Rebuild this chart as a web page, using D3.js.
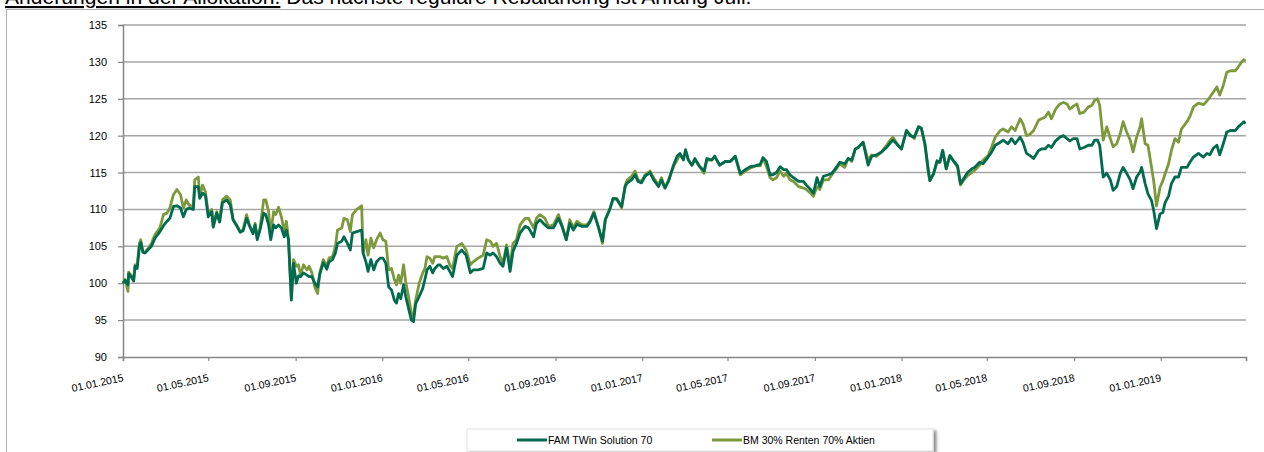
<!DOCTYPE html>
<html>
<head>
<meta charset="utf-8">
<script src="https://cdn.jsdelivr.net/npm/d3@7"></script>
<style>
  body { margin: 0; background: #fff; }
  svg { display: block; font-family: "Liberation Sans", Arial, sans-serif; }
</style>
</head>
<body>
<svg id="chart" width="1264" height="452"></svg>
<script>
// chart data
const seriesNames = ["FAM TWin Solution 70", "BM 30% Renten 70% Aktien"];
const seriesColors = ["#006b4f", "#7c993b"];
const yTicks = [90, 95, 100, 105, 110, 115, 120, 125, 130, 135];
const xTickLabels = ["01.01.2015", "01.05.2015", "01.09.2015", "01.01.2016", "01.05.2016", "01.09.2016",
  "01.01.2017", "01.05.2017", "01.09.2017", "01.01.2018", "01.05.2018", "01.09.2018", "01.01.2019"];

const dates = [
  "2015-01-01","2015-01-04","2015-01-08","2015-01-09","2015-01-13","2015-01-16","2015-01-18","2015-01-21","2015-01-24","2015-01-26",
  "2015-01-29","2015-02-01","2015-02-06","2015-02-10","2015-02-15","2015-02-22","2015-02-27","2015-03-04","2015-03-08","2015-03-13",
  "2015-03-18","2015-03-23","2015-03-27","2015-03-31","2015-04-04","2015-04-10","2015-04-12","2015-04-17","2015-04-19","2015-04-23",
  "2015-04-27","2015-05-01","2015-05-06","2015-05-08","2015-05-13","2015-05-17","2015-05-21","2015-05-27","2015-06-01","2015-06-05",
  "2015-06-10","2015-06-15","2015-06-19","2015-06-24","2015-06-28","2015-07-03","2015-07-06","2015-07-09","2015-07-13","2015-07-18",
  "2015-07-21","2015-07-25","2015-07-28","2015-08-01","2015-08-04","2015-08-08","2015-08-12","2015-08-16","2015-08-19","2015-08-22",
  "2015-08-26","2015-08-29","2015-09-02","2015-09-05","2015-09-08","2015-09-12","2015-09-17","2015-09-20","2015-09-24","2015-09-28",
  "2015-10-02","2015-10-05","2015-10-10","2015-10-15","2015-10-18","2015-10-23","2015-10-27","2015-10-30","2015-11-05","2015-11-08",
  "2015-11-13","2015-11-17","2015-11-20","2015-11-26","2015-12-03","2015-12-05","2015-12-09","2015-12-12","2015-12-16","2015-12-20",
  "2015-12-24","2015-12-29","2016-01-02","2016-01-06","2016-01-10","2016-01-14","2016-01-18","2016-01-21","2016-01-24","2016-01-27",
  "2016-01-31","2016-02-03","2016-02-07","2016-02-11","2016-02-14","2016-02-17","2016-02-22","2016-02-27","2016-03-01","2016-03-04",
  "2016-03-08","2016-03-12","2016-03-15","2016-03-20","2016-03-22","2016-03-27","2016-04-01","2016-04-05","2016-04-09","2016-04-15",
  "2016-04-22","2016-04-28","2016-05-04","2016-05-08","2016-05-15","2016-05-22","2016-05-27","2016-06-01","2016-06-05","2016-06-10",
  "2016-06-15","2016-06-19","2016-06-24","2016-06-29","2016-07-03","2016-07-08","2016-07-13","2016-07-20","2016-07-25","2016-08-01",
  "2016-08-05","2016-08-10","2016-08-17","2016-08-22","2016-08-29","2016-09-05","2016-09-10","2016-09-16","2016-09-21","2016-09-26",
  "2016-10-01","2016-10-08","2016-10-15","2016-10-19","2016-10-25","2016-10-31","2016-11-06","2016-11-10","2016-11-17","2016-11-21",
  "2016-11-26","2016-12-03","2016-12-08","2016-12-11","2016-12-17","2016-12-22","2016-12-26","2016-12-31","2017-01-05","2017-01-12",
  "2017-01-17","2017-01-24","2017-01-28","2017-02-02","2017-02-07","2017-02-14","2017-02-19","2017-02-23","2017-02-28","2017-03-03",
  "2017-03-07","2017-03-12","2017-03-16","2017-03-23","2017-03-29","2017-04-02","2017-04-09","2017-04-13","2017-04-20","2017-04-28",
  "2017-05-05","2017-05-12","2017-05-19","2017-05-26","2017-06-02","2017-06-09","2017-06-16","2017-06-20","2017-06-25","2017-06-30",
  "2017-07-04","2017-07-09","2017-07-14","2017-07-19","2017-07-23","2017-07-28","2017-08-02","2017-08-09","2017-08-16","2017-08-20",
  "2017-08-26","2017-08-30","2017-09-04","2017-09-08","2017-09-13","2017-09-20","2017-09-25","2017-10-02","2017-10-06","2017-10-13",
  "2017-10-18","2017-10-23","2017-10-28","2017-11-01","2017-11-08","2017-11-15","2017-11-20","2017-11-27","2017-12-04","2017-12-11",
  "2017-12-16","2017-12-20","2017-12-27","2018-01-01","2018-01-08","2018-01-13","2018-01-19","2018-01-25","2018-01-29","2018-02-03",
  "2018-02-08","2018-02-10","2018-02-15","2018-02-20","2018-02-24","2018-02-28","2018-03-05","2018-03-10","2018-03-15","2018-03-21",
  "2018-03-25","2018-03-29","2018-04-04","2018-04-10","2018-04-14","2018-04-21","2018-04-26","2018-05-03","2018-05-08","2018-05-13",
  "2018-05-20","2018-05-24","2018-05-31","2018-06-05","2018-06-10","2018-06-17","2018-06-21","2018-06-26","2018-07-01","2018-07-06",
  "2018-07-13","2018-07-17","2018-07-22","2018-07-27","2018-07-31","2018-08-06","2018-08-12","2018-08-17","2018-08-22","2018-08-26",
  "2018-08-31","2018-09-05","2018-09-09","2018-09-15","2018-09-21","2018-09-26","2018-09-30","2018-10-04","2018-10-07","2018-10-12",
  "2018-10-17","2018-10-22","2018-10-26","2018-10-31","2018-11-05","2018-11-09","2018-11-14","2018-11-19","2018-11-23","2018-11-28",
  "2018-12-03","2018-12-05","2018-12-10","2018-12-14","2018-12-19","2018-12-22","2018-12-26","2018-12-31","2019-01-04","2019-01-07",
  "2019-01-12","2019-01-16","2019-01-21","2019-01-26","2019-01-30","2019-02-07","2019-02-11","2019-02-16","2019-02-23","2019-03-02",
  "2019-03-07","2019-03-11","2019-03-16","2019-03-21","2019-03-25","2019-03-30","2019-04-04","2019-04-09","2019-04-16","2019-04-20",
  "2019-04-25","2019-04-28","2019-04-30"
];

const famValues = [
  100.0,100.4,99.8,101.3,100.8,100.3,102.3,102.0,104.9,105.5,
  104.2,104.1,104.6,105.0,106.1,107.0,107.8,108.4,108.8,110.4,
  110.5,110.2,109.0,110.0,110.2,110.0,113.1,113.1,111.5,112.2,
  111.9,109.0,109.7,107.6,109.5,108.3,110.9,111.3,110.6,108.6,
  107.8,106.9,107.1,108.8,107.8,106.7,107.9,105.9,107.3,109.5,
  109.3,107.9,105.9,107.9,107.5,107.9,107.5,106.3,107.2,105.9,
  97.7,102.7,100.0,101.0,100.9,101.4,101.1,100.9,100.9,100.0,
  99.5,101.2,102.8,101.9,102.9,103.2,104.1,105.4,105.7,106.3,
  105.4,104.5,106.8,107.0,107.2,104.1,102.9,101.6,103.2,101.8,
  102.9,103.4,103.4,102.7,99.5,99.1,97.7,97.3,98.6,97.9,
  99.8,98.2,96.6,95.0,94.8,97.2,98.2,99.3,100.5,101.8,
  102.3,101.4,102.0,102.5,102.5,102.0,102.3,101.6,100.9,103.8,
  104.5,103.8,101.4,101.8,101.8,102.0,104.1,103.8,104.1,103.6,
  102.7,102.3,104.8,101.6,104.3,105.4,106.8,107.7,107.5,106.3,
  108.1,108.6,107.9,107.5,107.5,108.8,107.7,105.9,108.1,107.2,
  108.0,107.7,107.7,108.2,109.5,107.7,105.7,108.6,110.2,111.5,
  111.4,110.4,113.1,113.6,114.0,114.7,113.8,113.6,114.5,115.0,
  114.0,113.1,114.0,112.9,113.8,116.0,117.2,117.6,116.7,118.1,
  116.7,116.0,116.9,115.8,115.2,116.9,116.7,117.2,116.0,116.5,
  116.5,117.2,114.9,115.4,115.8,115.9,116.1,117.0,116.5,114.7,
  114.7,115.0,115.8,115.4,115.4,114.7,114.3,113.8,113.8,113.3,
  112.7,112.2,114.3,113.1,114.5,114.7,114.9,115.8,116.4,116.2,
  116.9,116.7,118.2,118.4,119.1,116.0,117.2,117.4,117.8,118.4,
  119.0,119.4,118.7,118.2,120.7,120.0,119.8,121.2,121.0,118.9,
  115.2,113.9,114.8,116.6,116.4,118.0,115.5,117.3,116.6,115.9,
  113.5,114.1,115.0,115.5,115.7,116.4,116.2,117.1,117.8,118.7,
  119.1,119.4,118.9,119.6,118.9,119.8,119.1,117.6,117.3,116.9,
  118.0,118.2,118.2,118.7,118.4,119.3,119.8,120.0,119.6,119.3,
  119.6,119.6,118.2,118.4,118.7,118.7,119.4,119.4,118.7,114.4,
  114.9,114.0,112.6,113.1,114.9,115.7,114.9,114.0,112.8,114.4,
  115.1,115.7,113.5,112.1,111.2,109.9,107.4,109.4,109.6,110.9,
  111.8,113.5,114.4,114.4,115.7,115.7,116.4,117.1,117.6,117.1,
  117.6,117.4,118.3,118.7,117.4,118.9,120.5,120.7,120.7,121.2,
  121.6,121.9,121.6
];

const bmValues = [
  100.0,100.5,98.9,101.5,101.0,100.5,102.5,102.3,105.4,105.9,
  104.3,104.2,104.8,105.4,106.6,107.5,109.3,109.5,110.2,112.0,
  112.7,112.0,110.2,111.3,110.6,110.4,114.0,114.4,111.8,113.3,
  112.4,109.5,110.0,107.7,109.7,108.4,111.3,111.8,111.3,108.6,
  107.9,107.0,107.2,109.3,107.9,106.8,108.1,106.1,107.5,111.3,
  111.3,109.7,106.6,109.7,109.3,110.3,109.0,107.0,108.4,105.9,
  98.0,103.2,102.3,102.5,101.1,102.5,101.8,102.3,101.4,99.5,
  98.6,101.4,103.2,102.3,103.4,103.6,105.0,107.2,107.5,108.8,
  108.6,107.0,109.3,110.0,110.5,104.1,105.9,103.8,106.1,104.8,
  105.9,106.8,105.9,105.7,101.8,102.0,100.5,99.8,101.1,100.0,
  102.5,100.2,98.2,95.9,95.5,97.7,100.0,101.4,102.0,103.6,
  103.4,102.7,103.6,103.6,103.6,103.4,103.6,102.5,102.0,105.0,
  105.4,104.5,102.5,102.9,103.4,103.8,105.9,105.7,105.0,105.4,
  103.6,102.7,105.2,102.3,105.4,105.9,107.9,108.8,108.8,107.5,
  108.8,109.3,108.8,107.7,107.9,109.3,107.9,105.9,108.6,107.5,
  108.4,107.9,107.9,108.4,109.7,107.7,105.4,108.6,110.2,111.5,
  111.5,110.2,113.3,114.0,114.5,115.2,114.0,113.8,114.7,115.2,
  114.3,113.3,114.3,112.9,114.0,115.8,116.7,117.4,116.9,117.9,
  116.7,116.0,116.7,115.8,114.9,116.7,116.7,117.2,116.0,116.5,
  116.5,117.2,114.7,115.2,115.6,115.9,115.9,117.0,115.8,114.3,
  114.0,114.3,115.2,114.5,114.9,114.0,113.8,113.1,112.9,112.7,
  112.2,111.8,113.1,112.7,114.0,114.0,114.7,115.6,116.2,115.7,
  116.9,116.5,118.2,118.4,119.1,116.7,117.4,117.2,117.8,118.7,
  119.4,119.8,118.7,118.2,120.7,120.2,119.6,121.2,121.0,118.7,
  114.8,113.9,114.8,116.4,116.4,118.0,115.5,117.3,116.6,115.7,
  113.3,113.9,114.6,115.0,115.3,116.0,116.7,117.3,118.5,119.8,
  120.7,120.9,120.5,121.2,120.7,122.3,121.6,120.0,120.2,120.7,
  122.1,122.3,122.5,123.2,122.3,123.6,124.3,124.5,124.3,123.6,
  124.0,124.3,123.0,123.2,123.9,124.1,124.8,125.0,124.1,119.4,
  121.2,119.6,118.5,118.9,120.3,121.9,120.5,119.4,117.8,119.8,
  121.2,122.3,118.9,118.7,115.7,113.9,110.5,113.0,113.9,114.8,
  116.2,118.0,119.6,119.1,120.9,121.9,122.6,123.9,124.4,124.2,
  124.7,125.2,125.9,126.6,125.5,126.8,128.6,128.8,128.8,129.3,
  130.0,130.3,130.1
];

const parseDate = d3.timeParse("%Y-%m-%d");
const tickDates = xTickLabels.map(d3.timeParse("%d.%m.%Y"));
const rows = dates.map((d, i) => ({ date: parseDate(d), fam: famValues[i], bm: bmValues[i] }));

const svg = d3.select("#chart");
const margin = { left: 123, right: 18, top: 25, plotBottom: 357 };

// outer frame of the chart object (open on the right)
svg.append("path")
  .attr("d", "M6.5,460 V9.5 H1264")
  .attr("fill", "none")
  .attr("stroke", "#b0b0b0")
  .attr("stroke-width", 1);

// heading line, cut off at the top like in the source
const title = svg.append("text")
  .attr("x", 5)
  .attr("y", 4)
  .attr("font-family", "'Liberation Sans', Arial, sans-serif")
  .attr("font-size", 15)
  .attr("fill", "#000");
title.append("tspan")
  .attr("text-decoration", "underline")
  .text("Änderungen in der Allokation.");
title.append("tspan")
  .text(" Das nächste reguläre Rebalancing ist Anfang Juli.");
const tw = title.node().getComputedTextLength();
title.attr("font-size", 15 * 747 / tw);

const x = d3.scaleTime()
  .domain([parseDate("2015-01-01"), parseDate("2019-05-01")])
  .range([margin.left, 1264 - margin.right]);

const y = d3.scaleLinear()
  .domain([90, 135])
  .range([margin.plotBottom, margin.top]);

// horizontal gridlines
svg.append("g")
  .selectAll("line")
  .data(yTicks.filter(v => v > 90))
  .join("line")
  .attr("x1", x.range()[0])
  .attr("x2", x.range()[1])
  .attr("y1", d => y(d))
  .attr("y2", d => y(d))
  .attr("stroke", "#a6a6a6")
  .attr("stroke-width", 1.5);

// y axis
const yAxis = svg.append("g")
  .attr("transform", `translate(${margin.left},0)`)
  .call(d3.axisLeft(y).tickValues(yTicks).tickSize(5).tickPadding(11).tickFormat(d3.format("d")));
yAxis.select(".domain").attr("stroke", "#868686").attr("stroke-width", 1.5);
yAxis.selectAll(".tick line").attr("stroke", "#868686").attr("stroke-width", 1.2);
yAxis.selectAll("text")
  .attr("font-size", 11)
  .attr("fill", "#000");

// x axis
const xAxis = svg.append("g")
  .attr("transform", `translate(0,${margin.plotBottom})`)
  .call(d3.axisBottom(x).tickValues(tickDates.concat([parseDate("2019-05-01")])).tickSize(4).tickFormat(""));
xAxis.select(".domain").attr("stroke", "#868686").attr("stroke-width", 1.5);
xAxis.selectAll(".tick line").attr("stroke", "#868686").attr("stroke-width", 1.2);

svg.append("g")
  .selectAll("text")
  .data(tickDates)
  .join("text")
  .attr("transform", (d) => `translate(${x(d) + 1},${margin.plotBottom + 24}) rotate(-12)`)
  .attr("text-anchor", "end")
  .attr("font-size", 10.5)
  .attr("fill", "#000")
  .text((d, i) => xTickLabels[i]);

// series lines
const keys = ["fam", "bm"];
keys.slice().reverse().forEach((k) => {
  const idx = keys.indexOf(k);
  svg.append("path")
    .datum(rows)
    .attr("fill", "none")
    .attr("stroke", seriesColors[idx])
    .attr("stroke-width", 2.8)
    .attr("stroke-linejoin", "round")
    .attr("d", d3.line().x(d => x(d.date)).y(d => y(d[k])));
});

// legend box with drop shadow
const defs = svg.append("defs");
const f = defs.append("filter").attr("id", "shadow").attr("x", "-5%").attr("y", "-50%").attr("width", "110%").attr("height", "200%");
f.append("feDropShadow").attr("dx", 3).attr("dy", 2).attr("stdDeviation", 1.5).attr("flood-color", "#000").attr("flood-opacity", 0.45);

const legend = svg.append("g");
legend.append("rect")
  .attr("x", 467)
  .attr("y", 429)
  .attr("width", 466)
  .attr("height", 22)
  .attr("fill", "#fff")
  .attr("stroke", "#e4e4e4")
  .attr("filter", "url(#shadow)");

const legendX = [517, 712];
seriesNames.forEach((name, i) => {
  legend.append("line")
    .attr("x1", legendX[i])
    .attr("x2", legendX[i] + 30)
    .attr("y1", 440)
    .attr("y2", 440)
    .attr("stroke", seriesColors[i])
    .attr("stroke-width", 3);
  legend.append("text")
    .attr("x", legendX[i] + 31)
    .attr("y", 444)
    .attr("font-size", 10.5)
    .attr("fill", "#000")
    .text(name);
});
</script>
</body>
</html>
